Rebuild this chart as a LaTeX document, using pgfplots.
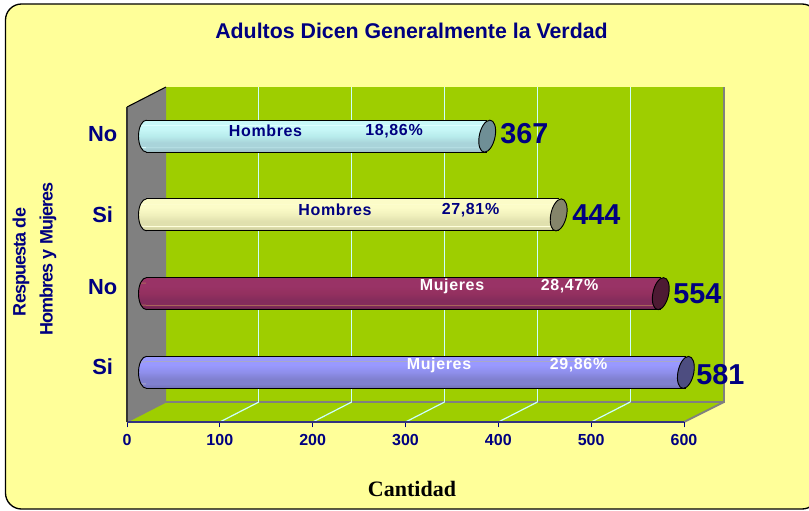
\documentclass[border=0pt]{standalone}
\usepackage{pgfplots}
\pgfplotsset{compat=1.18}
\usepackage{fontspec}
\setmainfont{Liberation Sans}
\newfontfamily\serifb{Liberation Serif}
\newfontfamily\wide[LetterSpace=4]{Liberation Sans}
\newfontfamily\tight[LetterSpace=-5]{Liberation Sans}
\definecolor{navy}{HTML}{000080}
\definecolor{paper}{HTML}{FFFF99}
\definecolor{wall}{HTML}{9ECE00}
\definecolor{grey}{HTML}{808080}
\definecolor{gridc}{HTML}{CCFFFF}
% colours of the cylinders, dark to light, then the thin stripe
\definecolor{ca}{HTML}{9DBDC4}\definecolor{cb}{HTML}{A9D4DA}\definecolor{cc}{HTML}{B8ECEC}\definecolor{cd}{HTML}{C8F8F8}\definecolor{cs}{HTML}{DDFFFF}
\definecolor{da}{HTML}{C6C69A}\definecolor{db}{HTML}{E0E0AE}\definecolor{dc}{HTML}{F0F0BC}\definecolor{dd}{HTML}{FCFCC8}\definecolor{ds}{HTML}{FFFFDD}
\definecolor{ea}{HTML}{66204C}\definecolor{eb}{HTML}{842C5C}\definecolor{ec}{HTML}{93305F}\definecolor{ed}{HTML}{993366}\definecolor{es}{HTML}{A8665A}
\definecolor{fa}{HTML}{7070B4}\definecolor{fb}{HTML}{8080D0}\definecolor{fc}{HTML}{8E8EEA}\definecolor{fd}{HTML}{9999FF}\definecolor{fs}{HTML}{A8A8C8}
\definecolor{endA}{HTML}{6F8F96}\definecolor{endB}{HTML}{85856A}\definecolor{endC}{HTML}{4D1A33}\definecolor{endD}{HTML}{4D4D80}

% only the middle 50bp of a shading shows on the path
\newcommand\bodyshade[2]{%
  \pgfdeclareverticalshading{#1}{100bp}{color(0bp)=(#2a);color(25bp)=(#2a);color(32bp)=(#2b);color(32.1bp)=(#2s);color(32.9bp)=(#2s);color(33bp)=(#2b);color(40bp)=(#2b);color(50bp)=(#2c);color(62bp)=(#2d);color(67bp)=(#2d);color(67.1bp)=(#2s);color(67.9bp)=(#2s);color(68bp)=(#2d);color(100bp)=(#2d)}}
\bodyshade{bodyc}{c}\bodyshade{bodyd}{d}\bodyshade{bodye}{e}\bodyshade{bodyf}{f}

% left end of a cylinder, filled with the body shading
\newcommand\halfcap{%
  \pgfpathmoveto{\pgfqpoint{0pt}{12pt}}%
  \pgfpatharc{90}{270}{6pt and 12pt}}
\newcommand\capmark[1]{%
  \pgfdeclareplotmark{cap#1}{%
    \halfcap\pgfpathclose\pgfshadepath{#1}{0}\pgfusepath{discard}%
    \halfcap\pgfusepathqstroke}}
\capmark{bodyc}\capmark{bodyd}\capmark{bodye}\capmark{bodyf}
% right end, slanted a little
\pgfdeclareplotmark{endcap}{%
  \pgfpathellipse{\pgfpointorigin}{\pgfqpoint{6pt}{0pt}}{\pgfqpoint{2pt}{12pt}}%
  \pgfusepathqfillstroke}

% y, y top, y bottom, value, shading, end colour, label xshift, label yshift
\newcommand\cylinder[8]{%
  \addplot[only marks,mark=cap#5,mark options={draw=black,line width=.7pt},forget plot]
    coordinates {(0,#1)};
  \addplot[xbar,bar width=24pt,bar shift=0pt,draw=none,shading=#5,shading angle=0,forget plot,
    nodes near coords,point meta=x,
    every node near coord/.append style={font=\fontsize{21.6}{21.6}\selectfont\bfseries,text=navy,anchor=west,
      inner sep=0pt,xshift=#7,yshift=#8,/pgf/number format/1000 sep={}}]
    coordinates {(#4,#1)};
  \addplot[black,line width=.8pt,forget plot] coordinates {(0,#2)(#4,#2)};
  \addplot[black,line width=.8pt,forget plot] coordinates {(0,#3)(#4,#3)};
  \addplot[only marks,mark=endcap,mark options={draw=black,fill=#6,line width=.7pt},forget plot]
    coordinates {(#4,#1)};
}

\begin{document}
\begin{tikzpicture}
  \useasboundingbox (0,0) rectangle (606.75pt,-382.5pt);
  \begin{scope}[x=.75pt,y=-.75pt]
  % page
  \fill[white] (0,0) rectangle (809,510);
  \begin{scope}
    \clip (0,0) rectangle (809,510);
    \draw[black,line width=1pt,fill=paper,rounded corners=12pt] (5.5,4) rectangle (818,509);
  \end{scope}

  % 3D box of the chart
  \fill[wall] (166,87) rectangle (724,402);
  \fill[wall] (127,422) -- (684,422) -- (724,402) -- (166,402) -- cycle;
  \fill[grey] (127,107) -- (166,87) -- (166,402) -- (127,422) -- cycle;
  \draw[black,line width=.8pt] (127,107) -- (166,87);
  \draw[grey,line width=1.4pt] (166,402) -- (724,402) -- (724,87);
  \draw[grey,line width=1.4pt] (684,422) -- (724,402);
  \draw[grey,line width=.8pt] (127,422) -- (166,402);
  \foreach \k in {1,...,5} {
    \draw[gridc,line width=.9pt] ({166+92.85*\k},87) -- ({166+92.85*\k},402);
    \draw[gridc,line width=.9pt] ({127+92.85*\k},422) -- ({166+92.85*\k},402);
  }
  \end{scope}

  \begin{axis}[
    at={(95.25pt,-316.5pt)},anchor=south west,
    scale only axis,width=417.75pt,height=236.25pt,
    clip=false,
    xmin=-21,xmax=579,ymin=-.63,ymax=3.37,
    axis x line*=bottom,axis y line*=left,
    x axis line style={-,color=navy!60!grey,line width=1.3pt},
    y axis line style={-,color=black!80,line width=1.3pt},
    xtick={-21,79,179,279,379,479,579},
    xticklabels={0,100,200,300,400,500,600},
    ytick={.07,1.086,2,3.03},
    yticklabels={Si,No,Si,No},
    extra y ticks={-.63,.37,1.37,2.37,3.37},
    extra y tick labels={},
    extra y tick style={major tick length=4pt,tick style={black,line width=.8pt}},
    xtick style={navy,line width=.6pt},
    ytick style={draw=none},
    major tick length=4pt,
    tick align=outside,
    xticklabel style={font=\fontsize{12}{12}\selectfont\bfseries,text=navy,yshift=-1.5pt},
    yticklabel style={font=\fontsize{16.4}{16.4}\selectfont\bfseries,text=navy,
      inner sep=0pt,text width=22pt,align=center,xshift=-3pt},
    /pgf/number format/assume math mode=true,
  ]
    \cylinder{3}{3.203}{2.797}{367}{bodyc}{endA}{9.75pt}{2pt}
    \cylinder{2}{2.203}{1.797}{444}{bodyd}{endB}{10pt}{0pt}
    \cylinder{1}{1.203}{.797}{554}{bodye}{endC}{9.3pt}{0pt}
    \cylinder{0}{.203}{-.203}{581}{bodyf}{endD}{7.7pt}{-2pt}
  \end{axis}

  % texts
  \begin{scope}[x=.75pt,y=-.75pt]
  \node[font=\fontsize{16}{16}\selectfont\bfseries,text=navy] at (411.5,31) {Adultos Dicen Generalmente la Verdad};
  \node[font=\serifb\fontsize{16.5}{16.5}\selectfont\bfseries,text=black] at (412,489) {Cantidad};
  \node[rotate=90,font=\tight\fontsize{13.5}{13.5}\selectfont\bfseries,text=navy] at (21,262) {Respuesta de};
  \node[rotate=90,font=\tight\fontsize{13.5}{13.5}\selectfont\bfseries,text=navy] at (48,259) {Hombres y Mujeres};
  \begin{scope}[every node/.style={font=\wide\fontsize{12}{12}\selectfont\bfseries}]
    \node[text=navy] at (265.5,131) {Hombres};
    \node[text=navy] at (394,131) {18,86\%};
    \node[text=navy] at (335,210) {Hombres};
    \node[text=navy] at (470.5,210) {27,81\%};
    \node[text=white] at (452,286) {Mujeres};
    \node[text=white] at (569.5,286) {28,47\%};
    \node[text=white] at (439,365) {Mujeres};
    \node[text=white] at (578.5,365) {29,86\%};
  \end{scope}
  \end{scope}
\end{tikzpicture}
\end{document}
